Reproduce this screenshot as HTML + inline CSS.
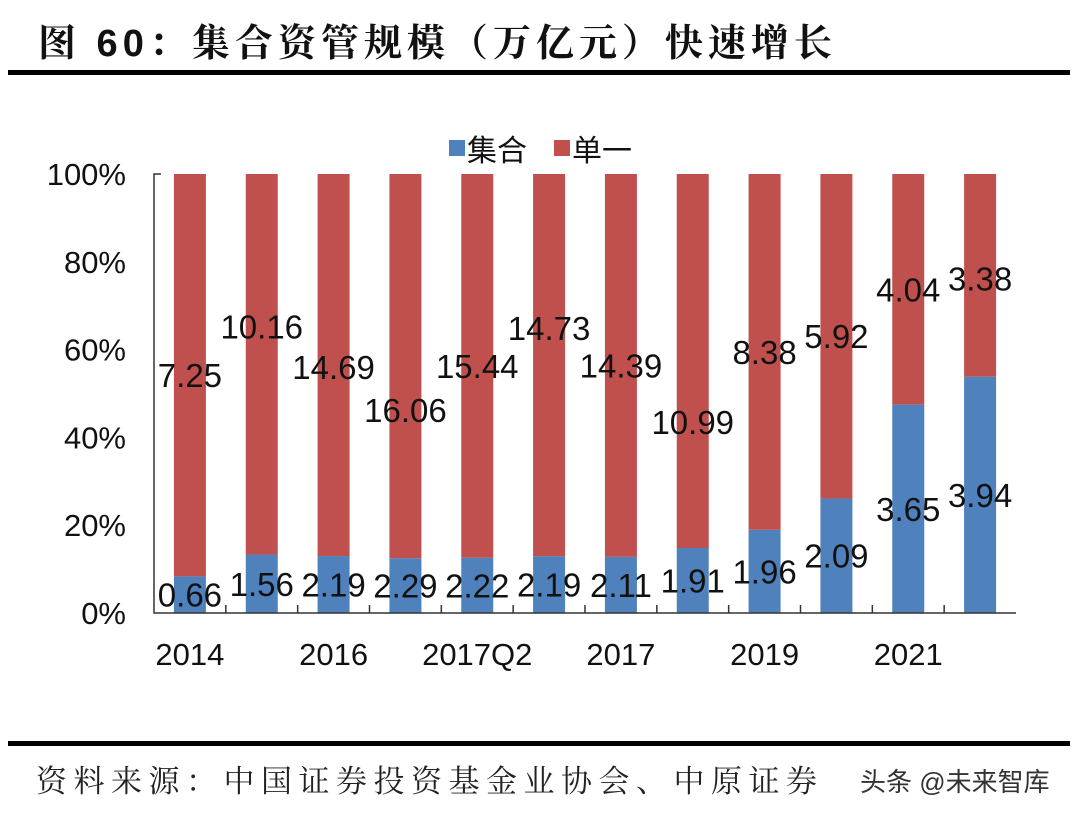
<!DOCTYPE html>
<html><head><meta charset="utf-8">
<style>
body{margin:0;background:#fff;width:1080px;height:818px;overflow:hidden;font-family:"Liberation Sans","Noto Sans CJK SC",sans-serif;}
#title{position:absolute;left:38px;top:12px;font-size:38px;font-weight:bold;font-family:"Liberation Sans","Noto Serif CJK SC","Noto Sans CJK SC",sans-serif;letter-spacing:5px;color:#111;}
.rule{position:absolute;left:8px;width:1062px;height:5px;background:#000;}
#src{position:absolute;left:36px;top:756px;font-size:31px;letter-spacing:6.5px;color:#222;font-family:"Liberation Sans","Noto Serif CJK SC",sans-serif;}
#wm{position:absolute;left:860px;top:762px;font-size:26px;color:#333;}
</style></head><body>
<div id="title">图 60：集合资管规模（万亿元）快速增长</div>
<div class="rule" style="top:70px"></div>
<svg id="chart" width="1080" height="818" style="position:absolute;left:0;top:0"></svg>
<div class="rule" style="top:741px"></div>
<div id="src">资料来源：中国证券投资基金业协会、中原证券</div>
<div id="wm">头条 @未来智库</div>
<script>
const categories=["2014","2015","2016","2017Q1","2017Q2","2017Q3","2017","2018","2019","2020","2021","2022"];
const tickLabels=["2014","","2016","","2017Q2","","2017","","2019","","2021",""];
const collective=[0.66,1.56,2.19,2.29,2.22,2.19,2.11,1.91,1.96,2.09,3.65,3.94];
const single=[7.25,10.16,14.69,16.06,15.44,14.73,14.39,10.99,8.38,5.92,4.04,3.38];
const yTicks=[0,20,40,60,80,100];
const singleLabelDy=[0,-38,2,44,0,-37,0,61,0,0,0,3];
const NS="http://www.w3.org/2000/svg";
const svg=document.getElementById('chart');
const L=154,R=1016,T=174,B=613;
const band=(R-L)/categories.length;
const x=i=>L+band*(i+0.5);
const y=p=>B-(B-T)*p/100;
function mk(t,a,txt){const e=document.createElementNS(NS,t);for(const k in a)e.setAttribute(k,a[k]);if(txt!==undefined)e.textContent=txt;svg.appendChild(e);return e;}
const blue="#4f81bd",red="#c0504d",bw=32;
yTicks.forEach(v=>{
 const t=mk('text',{x:126,y:y(v)+11,'text-anchor':'end','font-size':31,fill:'#111'},v+'%');
 
 
});
categories.forEach((c,i)=>{
 const tot=collective[i]+single[i];
 const pc=collective[i]/tot*100;
 const b1=mk('rect',{x:x(i)-bw/2,y:y(pc),width:bw,height:B-y(pc),fill:blue});
 
 
 const b2=mk('rect',{x:x(i)-bw/2,y:y(100),width:bw,height:y(pc)-y(100),fill:red});
 
 
 const l1=mk('text',{x:x(i),y:(y(pc)+B)/2+12,'text-anchor':'middle','font-size':33,fill:'#111'},collective[i].toFixed(2));
 
 
 const l2=mk('text',{x:x(i),y:(y(pc)+y(100))/2+12+singleLabelDy[i],'text-anchor':'middle','font-size':33,fill:'#111'},single[i].toFixed(2));
 
 
 if(tickLabels[i]){const tl=mk('text',{x:x(i),y:665,'text-anchor':'middle','font-size':31,fill:'#111'},tickLabels[i]);
 
 }
 if(i>0){const tk=mk('line',{x1:L+band*i,x2:L+band*i,y1:B,y2:B-8,stroke:'#333','stroke-width':1.5});
 
 }
});
const ax=mk('path',{d:`M${L+7},${T} H${L} V${B} H${R}`,fill:'none',stroke:'#333','stroke-width':1.5});


const lg1=mk('rect',{x:449,y:140,width:16,height:16,fill:blue});


const lt1=mk('text',{x:467,y:161,'font-size':30,fill:'#111'},'集合');


const lg2=mk('rect',{x:554,y:140,width:16,height:16,fill:red});


const lt2=mk('text',{x:572,y:161,'font-size':30,fill:'#111'},'单一');


</script>
</body></html>
